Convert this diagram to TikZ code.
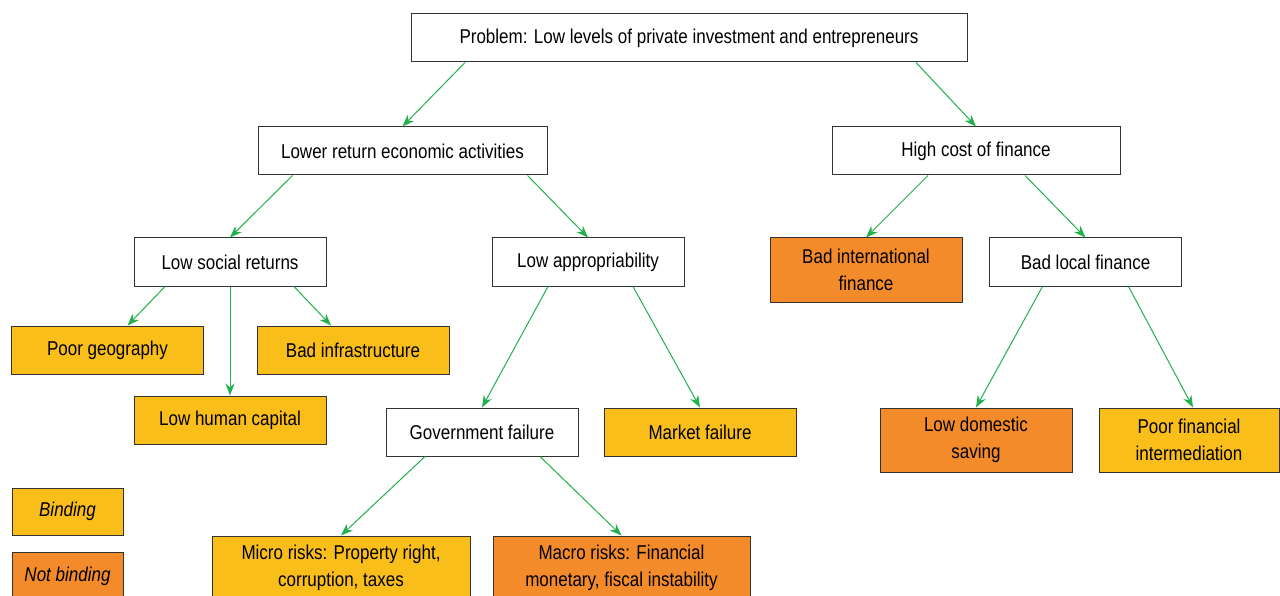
\documentclass[tikz,border=0pt]{standalone}
\usepackage{fontspec}
\setmainfont{Liberation Sans}[FakeStretch=0.85]
\usepackage{tikz}
\usetikzlibrary{arrows.meta}
\definecolor{bindyellow}{RGB}{249,190,26}
\definecolor{notbindorange}{RGB}{244,139,42}
\definecolor{arrowgreen}{RGB}{33,176,75}
\tikzstyle{block} = [rectangle, minimum width=192pt, minimum height=48pt, inner sep=0pt, text centered, align=center, draw=black!80, line width=1pt, font=\fontsize{20}{27}\selectfont]
\tikzstyle{binding} = [block, fill=bindyellow]
\tikzstyle{notbinding} = [block, fill=notbindorange]
\tikzstyle{arrow} = [arrowgreen, line width=1pt, -{Stealth[length=12pt,width=9pt]}]

\begin{document}
\begin{tikzpicture}[x=1pt, y=-1pt]
        \useasboundingbox (0,0) rectangle (1280,596);
        % top of the tree
        \node (problem) [block, minimum width=556pt] at (689,38) {Problem: Low levels of private investment and entrepreneurs};
        \node (lowreturn) [block, minimum width=289pt] at (402.5,151) {Lower return economic activities};
        \node (highcost) [block, minimum width=288pt] at (976,151) {High cost of finance};
        % second level
        \node (social) [block] at (230,262) {Low social returns};
        \node (approp) [block] at (588,262) {Low appropriability};
        \node (intlfin) [notbinding, minimum height=64pt] at (866,270) {Bad international\\finance};
        \node (localfin) [block] at (1085.5,262) {Bad local finance};
        % third level
        \node (geography) [binding] at (107.5,350) {Poor geography};
        \node (infra) [binding] at (353,350) {Bad infrastructure};
        \node (human) [binding] at (230,420) {Low human capital};
        \node (govfail) [block] at (482,432) {Government failure};
        \node (mktfail) [binding] at (700,432) {Market failure};
        \node (saving) [notbinding, minimum height=64pt] at (976,440) {Low domestic\\saving};
        \node (intermed) [binding, minimum height=64pt, minimum width=180pt] at (1189,440) {Poor financial\\intermediation};
        % bottom
        \node (micro) [binding, minimum width=258pt, minimum height=64pt] at (341,568) {Micro risks: Property right,\\corruption, taxes};
        \node (macro) [notbinding, minimum width=257pt, minimum height=64pt] at (621.5,568) {Macro risks: Financial\\monetary, fiscal instability};
        % legend
        \node (legbind) [binding, minimum width=111pt, minimum height=47pt, font=\fontsize{20}{27}\selectfont\itshape] at (67.5,511.5) {Binding};
        \node (legnot) [notbinding, minimum width=111pt, minimum height=48pt, font=\fontsize{20}{27}\selectfont\itshape] at (67.5,576) {Not binding};

        \draw [arrow] ([xshift=-224pt]problem.south) -- (lowreturn.north);
        \draw [arrow] ([xshift=227pt]problem.south) -- (highcost.north);
        \draw [arrow] ([xshift=-110pt]lowreturn.south) -- (social.north);
        \draw [arrow] ([xshift=125pt]lowreturn.south) -- (approp.north);
        \draw [arrow] ([xshift=-48pt]highcost.south) -- (intlfin.north);
        \draw [arrow] ([xshift=49pt]highcost.south) -- (localfin.north);
        \draw [arrow] ([xshift=-65pt]social.south) -- ([xshift=20pt]geography.north);
        \draw [arrow] (social.south) -- (human.north);
        \draw [arrow] ([xshift=64pt]social.south) -- ([xshift=-22pt]infra.north);
        \draw [arrow] ([xshift=-40pt]approp.south) -- (govfail.north);
        \draw [arrow] ([xshift=45pt]approp.south) -- (mktfail.north);
        \draw [arrow] ([xshift=-43pt]localfin.south) -- (saving.north);
        \draw [arrow] ([xshift=43pt]localfin.south) -- ([xshift=4pt]intermed.north);
        \draw [arrow] ([xshift=-57pt]govfail.south) -- (micro.north);
        \draw [arrow] ([xshift=58pt]govfail.south) -- (macro.north);
    \end{tikzpicture}
\end{document}
